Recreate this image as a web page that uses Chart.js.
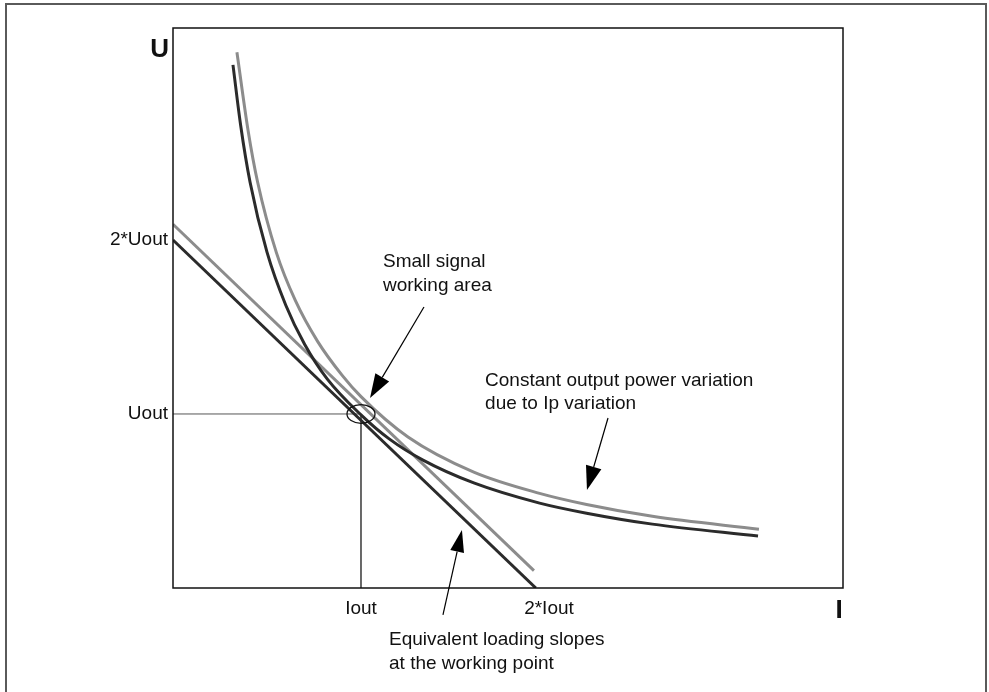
<!DOCTYPE html>
<html>
<head>
<meta charset="utf-8">
<script src="https://cdn.jsdelivr.net/npm/chart.js@4/dist/chart.umd.min.js"></script>
<style>
  html, body { margin: 0; padding: 0; background: #fff; }
  canvas { display: block; }
</style>
</head>
<body>
<canvas id="ui_chart" width="989" height="692"></canvas>
<script>
// I in units of Iout, U in units of Uout
var darkCurveI = [0.319, 0.36, 0.41, 0.50, 0.60, 0.70, 0.82, 1.00, 1.15, 1.33, 1.60, 1.95, 2.20, 2.55, 3.112];
var darkCurveU = [3.006, 2.658, 2.332, 1.930, 1.625, 1.401, 1.202, 0.995, 0.857, 0.735, 0.604, 0.488, 0.430, 0.367, 0.299];

var greyCurveI = [0.340, 0.40, 0.45, 0.55, 0.65, 0.77, 0.90, 1.00, 1.25, 1.60, 1.95, 2.20, 2.55, 3.117];
var greyCurveU = [3.079, 2.625, 2.333, 1.927, 1.654, 1.416, 1.222, 1.100, 0.868, 0.666, 0.544, 0.480, 0.412, 0.337];

var darkSlopeI = [0, 1.93];
var darkSlopeU = [2.0, 0];
var greySlopeI = [0, 1.92];
var greySlopeU = [2.09, 0.10];

var guideI = [0, 1, 1];
var guideU = [1, 1, 0];

var xTickValues = [1, 2];
var xTickLabels = ["Iout", "2*Iout"];
var yTickValues = [1, 2];
var yTickLabels = ["Uout", "2*Uout"];

function pts(xs, ys) {
    return xs.map(function (x, i) { return {x: x, y: ys[i]}; });
}

var FONT = "'Liberation Sans', Arial, sans-serif";
var DARK = "#2b2b2b";
var GREY = "#8c8c8c";

function arrow(ctx, x0, y0, x1, y1, len, half) {
    var a = Math.atan2(y1 - y0, x1 - x0);
    var bx = x1 - len * Math.cos(a), by = y1 - len * Math.sin(a);
    ctx.beginPath();
    ctx.moveTo(x0, y0);
    ctx.lineTo(bx, by);
    ctx.stroke();
    ctx.beginPath();
    ctx.moveTo(x1, y1);
    ctx.lineTo(bx + half * Math.sin(a), by - half * Math.cos(a));
    ctx.lineTo(bx - half * Math.sin(a), by + half * Math.cos(a));
    ctx.closePath();
    ctx.fill();
}

var decorations = {
    id: "decorations",
    beforeDraw: function (chart) {
        var ctx = chart.ctx;
        ctx.save();
        ctx.fillStyle = "#fff";
        ctx.fillRect(0, 0, chart.width, chart.height);
        // outer frame
        ctx.strokeStyle = "#5a5a5a";
        ctx.lineWidth = 2;
        ctx.strokeRect(6, 4, 980, 720);
        ctx.restore();
    },
    afterDraw: function (chart) {
        var ctx = chart.ctx, a = chart.chartArea;
        var xs = chart.scales.x, ys = chart.scales.y;
        function px(i) { return xs.getPixelForValue(i); }
        function py(u) { return ys.getPixelForValue(u); }

        ctx.save();
        // plot box
        ctx.strokeStyle = "#111";
        ctx.lineWidth = 1.5;
        ctx.strokeRect(a.left, a.top, a.right - a.left, a.bottom - a.top);

        // working point circle
        ctx.lineWidth = 1.3;
        ctx.beginPath();
        ctx.ellipse(px(1), py(1), 14, 9.3, 0, 0, Math.PI * 2);
        ctx.stroke();

        // arrows
        ctx.fillStyle = "#000";
        ctx.strokeStyle = "#000";
        ctx.lineWidth = 1.2;
        arrow(ctx, px(1.335), py(1.615), px(1.048), py(1.092), 24, 8);
        arrow(ctx, px(2.314), py(0.977), px(2.202), py(0.563), 24, 8);
        arrow(ctx, px(1.436), py(-0.155), px(1.537), py(0.333), 22, 7);

        // notes
        ctx.fillStyle = "#111";
        ctx.font = "19px " + FONT;
        ctx.textAlign = "left";
        ctx.textBaseline = "alphabetic";
        ctx.fillText("Small signal", px(1.117), py(1.845));
        ctx.fillText("working area", px(1.117), py(1.845) + 24);
        ctx.fillText("Constant output power variation", px(1.660), py(1.161));
        ctx.fillText("due to Ip variation", px(1.660), py(1.161) + 23);
        ctx.fillText("Equivalent loading slopes", px(1.149), py(-0.328));
        ctx.fillText("at the working point", px(1.149), py(-0.328) + 24);

        // axis letters
        ctx.font = "bold 26px " + FONT;
        ctx.textBaseline = "middle";
        ctx.textAlign = "right";
        ctx.fillText("U", a.left - 4, a.top + 22);
        ctx.textAlign = "center";
        ctx.fillText("I", a.right - 4, a.bottom + 23);
        ctx.restore();
    }
};

new Chart(document.getElementById("ui_chart"), {
    type: "line",
    data: {
        datasets: [
            {data: pts(darkCurveI, darkCurveU), borderColor: DARK, borderWidth: 3, cubicInterpolationMode: "monotone", order: 1},
            {data: pts(darkSlopeI, darkSlopeU), borderColor: DARK, borderWidth: 3, order: 2},
            {data: pts(greySlopeI, greySlopeU), borderColor: GREY, borderWidth: 3, order: 3},
            {data: pts(greyCurveI, greyCurveU), borderColor: GREY, borderWidth: 3, cubicInterpolationMode: "monotone", order: 4},
            {data: pts(guideI, guideU), borderColor: "#555", borderWidth: 1, order: 5}
        ]
    },
    options: {
        responsive: false,
        animation: false,
        elements: {point: {radius: 0}, line: {fill: false}},
        layout: {padding: {left: 73, top: 28, right: 146, bottom: 64}},
        plugins: {legend: {display: false}, tooltip: {enabled: false}},
        scales: {
            x: {
                type: "linear",
                min: 0,
                max: 3.564,
                grid: {display: false, drawTicks: false},
                border: {display: false},
                afterFit: function (s) { s.height = 40; },
                afterBuildTicks: function (s) { s.ticks = xTickValues.map(function (v) { return {value: v}; }); },
                ticks: {
                    padding: 9,
                    color: "#111",
                    font: {family: FONT, size: 19},
                    callback: function (v, i) { return xTickLabels[i]; }
                }
            },
            y: {
                type: "linear",
                min: 0,
                max: 3.218,
                grid: {display: false, drawTicks: false},
                border: {display: false},
                afterFit: function (s) { s.width = 100; },
                afterBuildTicks: function (s) { s.ticks = yTickValues.map(function (v) { return {value: v}; }); },
                ticks: {
                    padding: 5,
                    color: "#111",
                    font: {family: FONT, size: 19},
                    callback: function (v, i) { return yTickLabels[i]; }
                }
            }
        }
    },
    plugins: [decorations]
});
</script>
</body>
</html>
